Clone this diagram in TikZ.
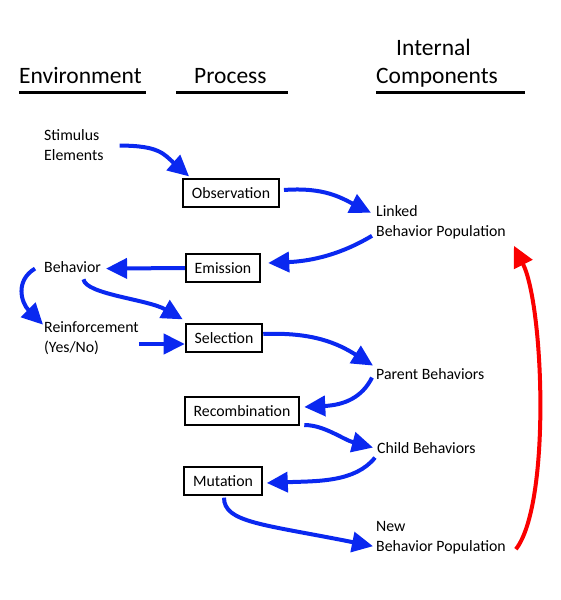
\documentclass[tikz,border=0pt]{standalone}
\usepackage{fontspec}
\setmainfont{Carlito}
\usetikzlibrary{arrows.meta}

\definecolor{flowblue}{RGB}{10,40,240}
\definecolor{loopred}{RGB}{250,0,0}

\tikzset{
  head/.style={anchor=base west, inner sep=0pt, font=\fontsize{23.5}{28}\selectfont},
  txt/.style={anchor=base west, inner sep=0pt, align=left, font=\fontsize{15.8}{20}\selectfont},
  box/.style={draw, line width=1.8pt, inner xsep=9pt, minimum height=27.5pt, font=\fontsize{15.8}{20}\selectfont},
  flow/.style={draw=flowblue, line width=4pt, -{Triangle[length=21pt,width=20pt]}},
  loop/.style={draw=loopred, line width=4pt, -{Triangle[length=21pt,width=20pt]}}
}

\begin{document}
\begin{tikzpicture}[x=1pt, y=-1pt]

\useasboundingbox ( 0, 0 ) rectangle ( 561, 600 );

% Column headers
\node (env) at ( 19, 83 ) [head] {Environment};
\draw [line width=3pt] ( 19, 92 ) -- ( 146, 92 );
\node (proc) at ( 194, 83 ) [head] {Process};
\draw [line width=3pt] ( 176, 92 ) -- ( 288, 92 );
\node (intl) at ( 396, 55 ) [head] {Internal};
\node (comp) at ( 376, 83 ) [head] {Components};
\draw [line width=3pt] ( 376, 92 ) -- ( 525, 92 );

% Environment (base is the last line)
\node (stim) at ( 44, 160 ) [txt] {Stimulus\\Elements};
\node (beh) at ( 44, 272 ) [txt] {Behavior};
\node (reinf) at ( 44, 352 ) [txt] {Reinforcement\\(Yes/No)};

% Process
\node (obs) at ( 231, 193 ) [box] {Observation};
\node (emis) at ( 223, 268 ) [box] {Emission};
\node (sel) at ( 224, 338 ) [box] {Selection};
\node (recomb) at ( 242, 411 ) [box] {Recombination};
\node (mut) at ( 223, 481 ) [box] {Mutation};

% Internal components
\node (linked) at ( 376, 236 ) [txt] {Linked\\Behavior Population};
\node (parent) at ( 376, 379 ) [txt] {Parent Behaviors};
\node (child) at ( 377, 453 ) [txt] {Child Behaviors};
\node (newpop) at ( 376, 551 ) [txt] {New\\Behavior Population};

% Flow
\draw [flow] ([shift={(16,1)}]stim.east) .. controls +(40,0) and +(-25,-22) .. ([shift={(7,-2)}]obs.north west);
\draw [flow] ([shift={(4,-3)}]obs.east) .. controls +(40,-3) and +(-30,-15) .. ([shift={(-5,-9)}]linked.west);
\draw [flow] ([shift={(-4,14)}]linked.west) .. controls +(-30,18) and +(45,-2) .. ([shift={(7,-5)}]emis.east);
\draw [flow] (emis.west) -- ([shift={(5,2)}]beh.east);
\draw [flow] ([shift={(-9,2)}]beh.west) .. controls +(-20,12) and +(-22,-22) .. ([shift={(-1,-13)}]reinf.west);
\draw [flow] ([shift={(11,7)}]beh.south) .. controls +(2,15) and +(-35,-20) .. ([shift={(-2,-4)}]sel.north west);
\coordinate (selin) at ([yshift=-6pt]sel.west);
\draw [flow] (selin -| reinf.east) -- (selin);
\draw [flow] ([shift={(0,-4)}]sel.east) .. controls +(50,-2) and +(-35,-22) .. ([shift={(-3,-8)}]parent.west);
\draw [flow] ([shift={(-4,4)}]parent.west) .. controls +(-10,20) and +(40,-2) .. ([shift={(4,-4)}]recomb.east);
\draw [flow] ([shift={(4,14)}]recomb.east) .. controls +(20,0) and +(-30,-8) .. ([shift={(-4,0)}]child.west);
\draw [flow] ([shift={(-2,10)}]child.west) .. controls +(-20,25) and +(50,-2) .. ([shift={(4,2)}]mut.east);
\draw [flow] ([shift={(1,2)}]mut.south) .. controls +(0,25) and +(-110,-22) .. ([shift={(-3,9)}]newpop.west);

% Back to linked population
\draw [loop] ([shift={(10,12)}]newpop.east) .. controls +(35,-45) and +(30,60) .. ([shift={(8,7)}]linked.south east);

\end{tikzpicture}
\end{document}
